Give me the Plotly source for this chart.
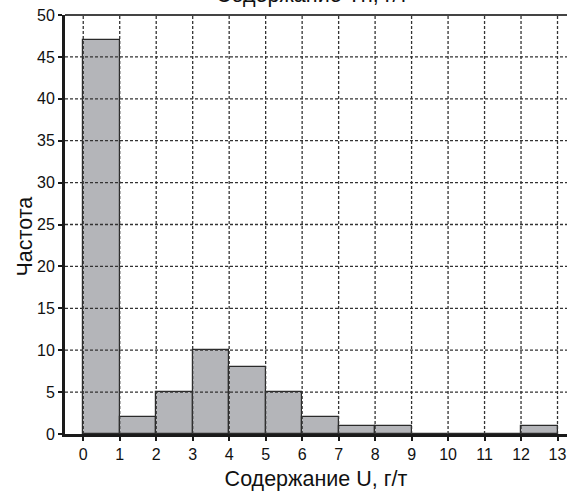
import plotly.graph_objects as go

bin_left = [0, 1, 2, 3, 4, 5, 6, 7, 8, 9, 10, 11, 12]
counts = [47, 2, 5, 10, 8, 5, 2, 1, 1, 0, 0, 0, 1]
x_ticks = list(range(0, 14))
y_ticks = [0, 5, 10, 15, 20, 25, 30, 35, 40, 45, 50]

centers = [b + 0.5 for b in bin_left]

fig = go.Figure()
fig.add_trace(go.Bar(
    x=centers, y=counts, width=1,
    marker=dict(color="#b4b5b9", line=dict(color="#2a2a2a", width=1.2)),
    showlegend=False, hoverinfo="skip",
))

XMAX = 13.26
shapes = []
for xv in x_ticks:
    shapes.append(dict(type="line", xref="x", yref="y", x0=xv, x1=xv, y0=0, y1=50,
                       line=dict(color="#333333", width=1.3, dash="3px,2px"), layer="above"))
for yv in y_ticks[1:-1]:
    shapes.append(dict(type="line", xref="x", yref="y", x0=-0.5, x1=XMAX, y0=yv, y1=yv,
                       line=dict(color="#333333", width=1.3, dash="3px,2px"), layer="above"))
shapes.append(dict(type="line", xref="paper", yref="paper", x0=0, x1=1, y0=1, y1=1,
                   line=dict(color="#444444", width=2), layer="above"))

font_family = "Liberation Sans, Arial, sans-serif"
fig.update_layout(
    width=567, height=491,
    margin=dict(l=65, r=0, t=15, b=57),
    plot_bgcolor="white", paper_bgcolor="white",
    bargap=0,
    shapes=shapes,
    font=dict(family=font_family, color="#111111"),
    xaxis=dict(range=[-0.5, XMAX], tickvals=x_ticks, ticktext=[str(v) for v in x_ticks],
               showgrid=False, zeroline=False, showline=True, linecolor="#1a1a1a", linewidth=3,
               ticks="outside", ticklen=4, tickwidth=1.5, tickcolor="#1a1a1a",
               tickfont=dict(size=16, family=font_family),
               title=dict(text="Содержание U, г/т", font=dict(size=21.5), standoff=9),
               layer="above traces"),
    yaxis=dict(range=[0, 50], tickvals=y_ticks, showgrid=False, zeroline=False,
               showline=True, linecolor="#1a1a1a", linewidth=3,
               ticks="outside", ticklen=4, tickwidth=1.5, tickcolor="#1a1a1a",
               tickfont=dict(size=16, family=font_family),
               layer="above traces"),
    annotations=[
        dict(text="Содержание Th, г/т", xref="paper", yref="paper",
             x=0.4925, y=1.0, yshift=6, xanchor="center", yanchor="bottom",
             showarrow=False, font=dict(size=21.5, family=font_family)),
        dict(text="Частота", xref="paper", yref="paper", textangle=-90,
             x=0, xshift=-41, y=0.5, yshift=-12, xanchor="center", yanchor="middle",
             showarrow=False, font=dict(size=21.5, family=font_family)),
    ],
)

fig.write_html("out.html", config={"displayModeBar": False},
               post_script="document.body.style.margin='0';document.body.style.overflow='hidden';")
